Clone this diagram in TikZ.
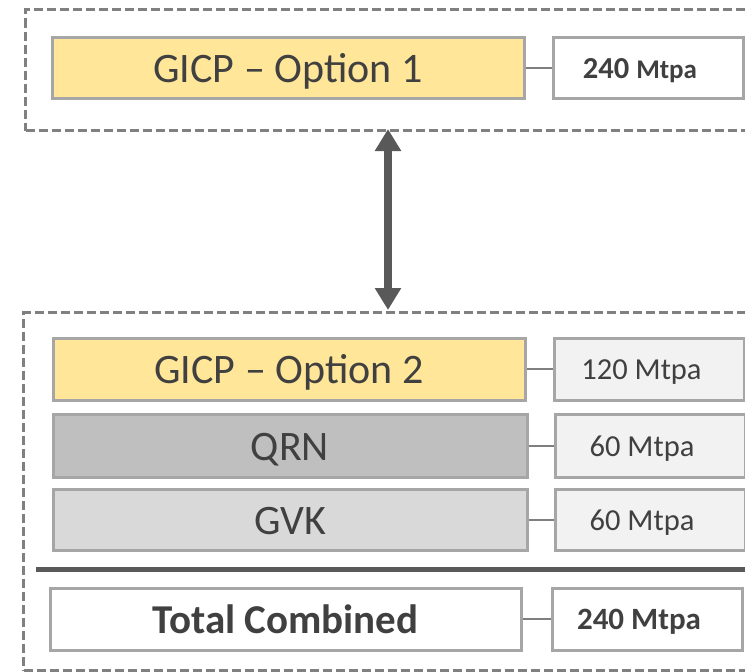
\documentclass[tikz,border=0pt]{standalone}
\usepackage{fontspec}
\setmainfont{Carlito}
\usetikzlibrary{arrows.meta}
\definecolor{frameC}{HTML}{808080}
\definecolor{boxC}{HTML}{A6A6A6}
\definecolor{txtC}{HTML}{404040}
\definecolor{yelC}{HTML}{FFE699}
\definecolor{lgC}{HTML}{F2F2F2}
\definecolor{qrnC}{HTML}{BFBFBF}
\definecolor{gvkC}{HTML}{D9D9D9}
\definecolor{arrC}{HTML}{595959}
\definecolor{linkC}{HTML}{7F7F7F}
\tikzset{
  frame/.style={draw=frameC, line width=3pt, dash pattern=on 9pt off 4pt, rectangle, inner sep=0pt},
  namebox/.style={draw=boxC, line width=3pt, rectangle, minimum height=61pt, inner sep=0pt, text=txtC,
    font=\fontsize{42}{50}\selectfont, text height=29.5pt, text depth=0pt},
  valbox/.style={draw=boxC, line width=3pt, rectangle, minimum width=190pt, minimum height=61pt, inner sep=0pt, text=txtC,
    font=\fontsize{30.5}{37}\selectfont, text height=21pt, text depth=0pt, execute at end node={\hspace*{16pt}}},
  link/.style={draw=linkC, line width=2pt},
  bigarrow/.style={draw=arrC, line width=8pt, {Triangle[width=25pt,length=22pt]}-{Triangle[width=25pt,length=22pt]}}
}
\begin{document}
\begin{tikzpicture}[x=1pt,y=-1pt]
\useasboundingbox (0,0) rectangle (745,672);
\clip (0,0) rectangle (745,672);
% frames
\node[frame, minimum width=780pt, minimum height=121pt, anchor=north west] (topframe) at (24,8) {};
\node[frame, minimum width=780pt, minimum height=358pt, anchor=north west] (botframe) at (22,311) {};
% top group
\node[namebox, fill=yelC, minimum width=472pt] (opt1) at (288,67.5) {GICP – Option 1};
\node[valbox, fill=white] (v1) at (648,67.5) {\bfseries 240 {\fontsize{27}{32}\selectfont Mtpa}};
\draw[link] (opt1) -- (v1);
% arrow
\coordinate (a1) at (388,129);
\coordinate (a2) at (388,310);
\draw[bigarrow] (a1) -- (a2);
% bottom group
\node[namebox, fill=yelC, minimum width=472pt, minimum height=62pt] (opt2) at (289,369) {GICP – Option 2};
\node[valbox, fill=lgC, minimum height=62pt] (v2) at (649.5,369) {120 Mtpa};
\draw[link] (opt2) -- (v2);
\node[namebox, fill=qrnC, minimum width=474pt, minimum height=63pt] (qrn) at (290,445.5) {QRN};
\node[valbox, fill=lgC, minimum height=63pt] (v3) at (650,445.5) {60 Mtpa};
\draw[link] (qrn) -- (v3);
\node[namebox, fill=gvkC, minimum width=474pt] (gvk) at (290,519.5) {GVK};
\node[valbox, fill=lgC] (v4) at (650,519.5) {60 Mtpa};
\draw[link] (gvk) -- (v4);
% separator
\coordinate (s1) at (36,569);
\coordinate (s2) at (760,569);
\draw[draw=arrC, line width=5pt] (s1) -- (s2);
% total
\node[namebox, fill=white, minimum width=471pt, minimum height=62pt, font=\fontsize{41}{49}\selectfont\bfseries, text height=29pt] (tot) at (285.5,619) {Total Combined};
\node[valbox, fill=white, minimum height=62pt, font=\fontsize{31}{37}\selectfont\bfseries, text height=21.5pt] (v5) at (647,619) {240 Mtpa};
\draw[link] (tot) -- (v5);
\end{tikzpicture}
\end{document}
